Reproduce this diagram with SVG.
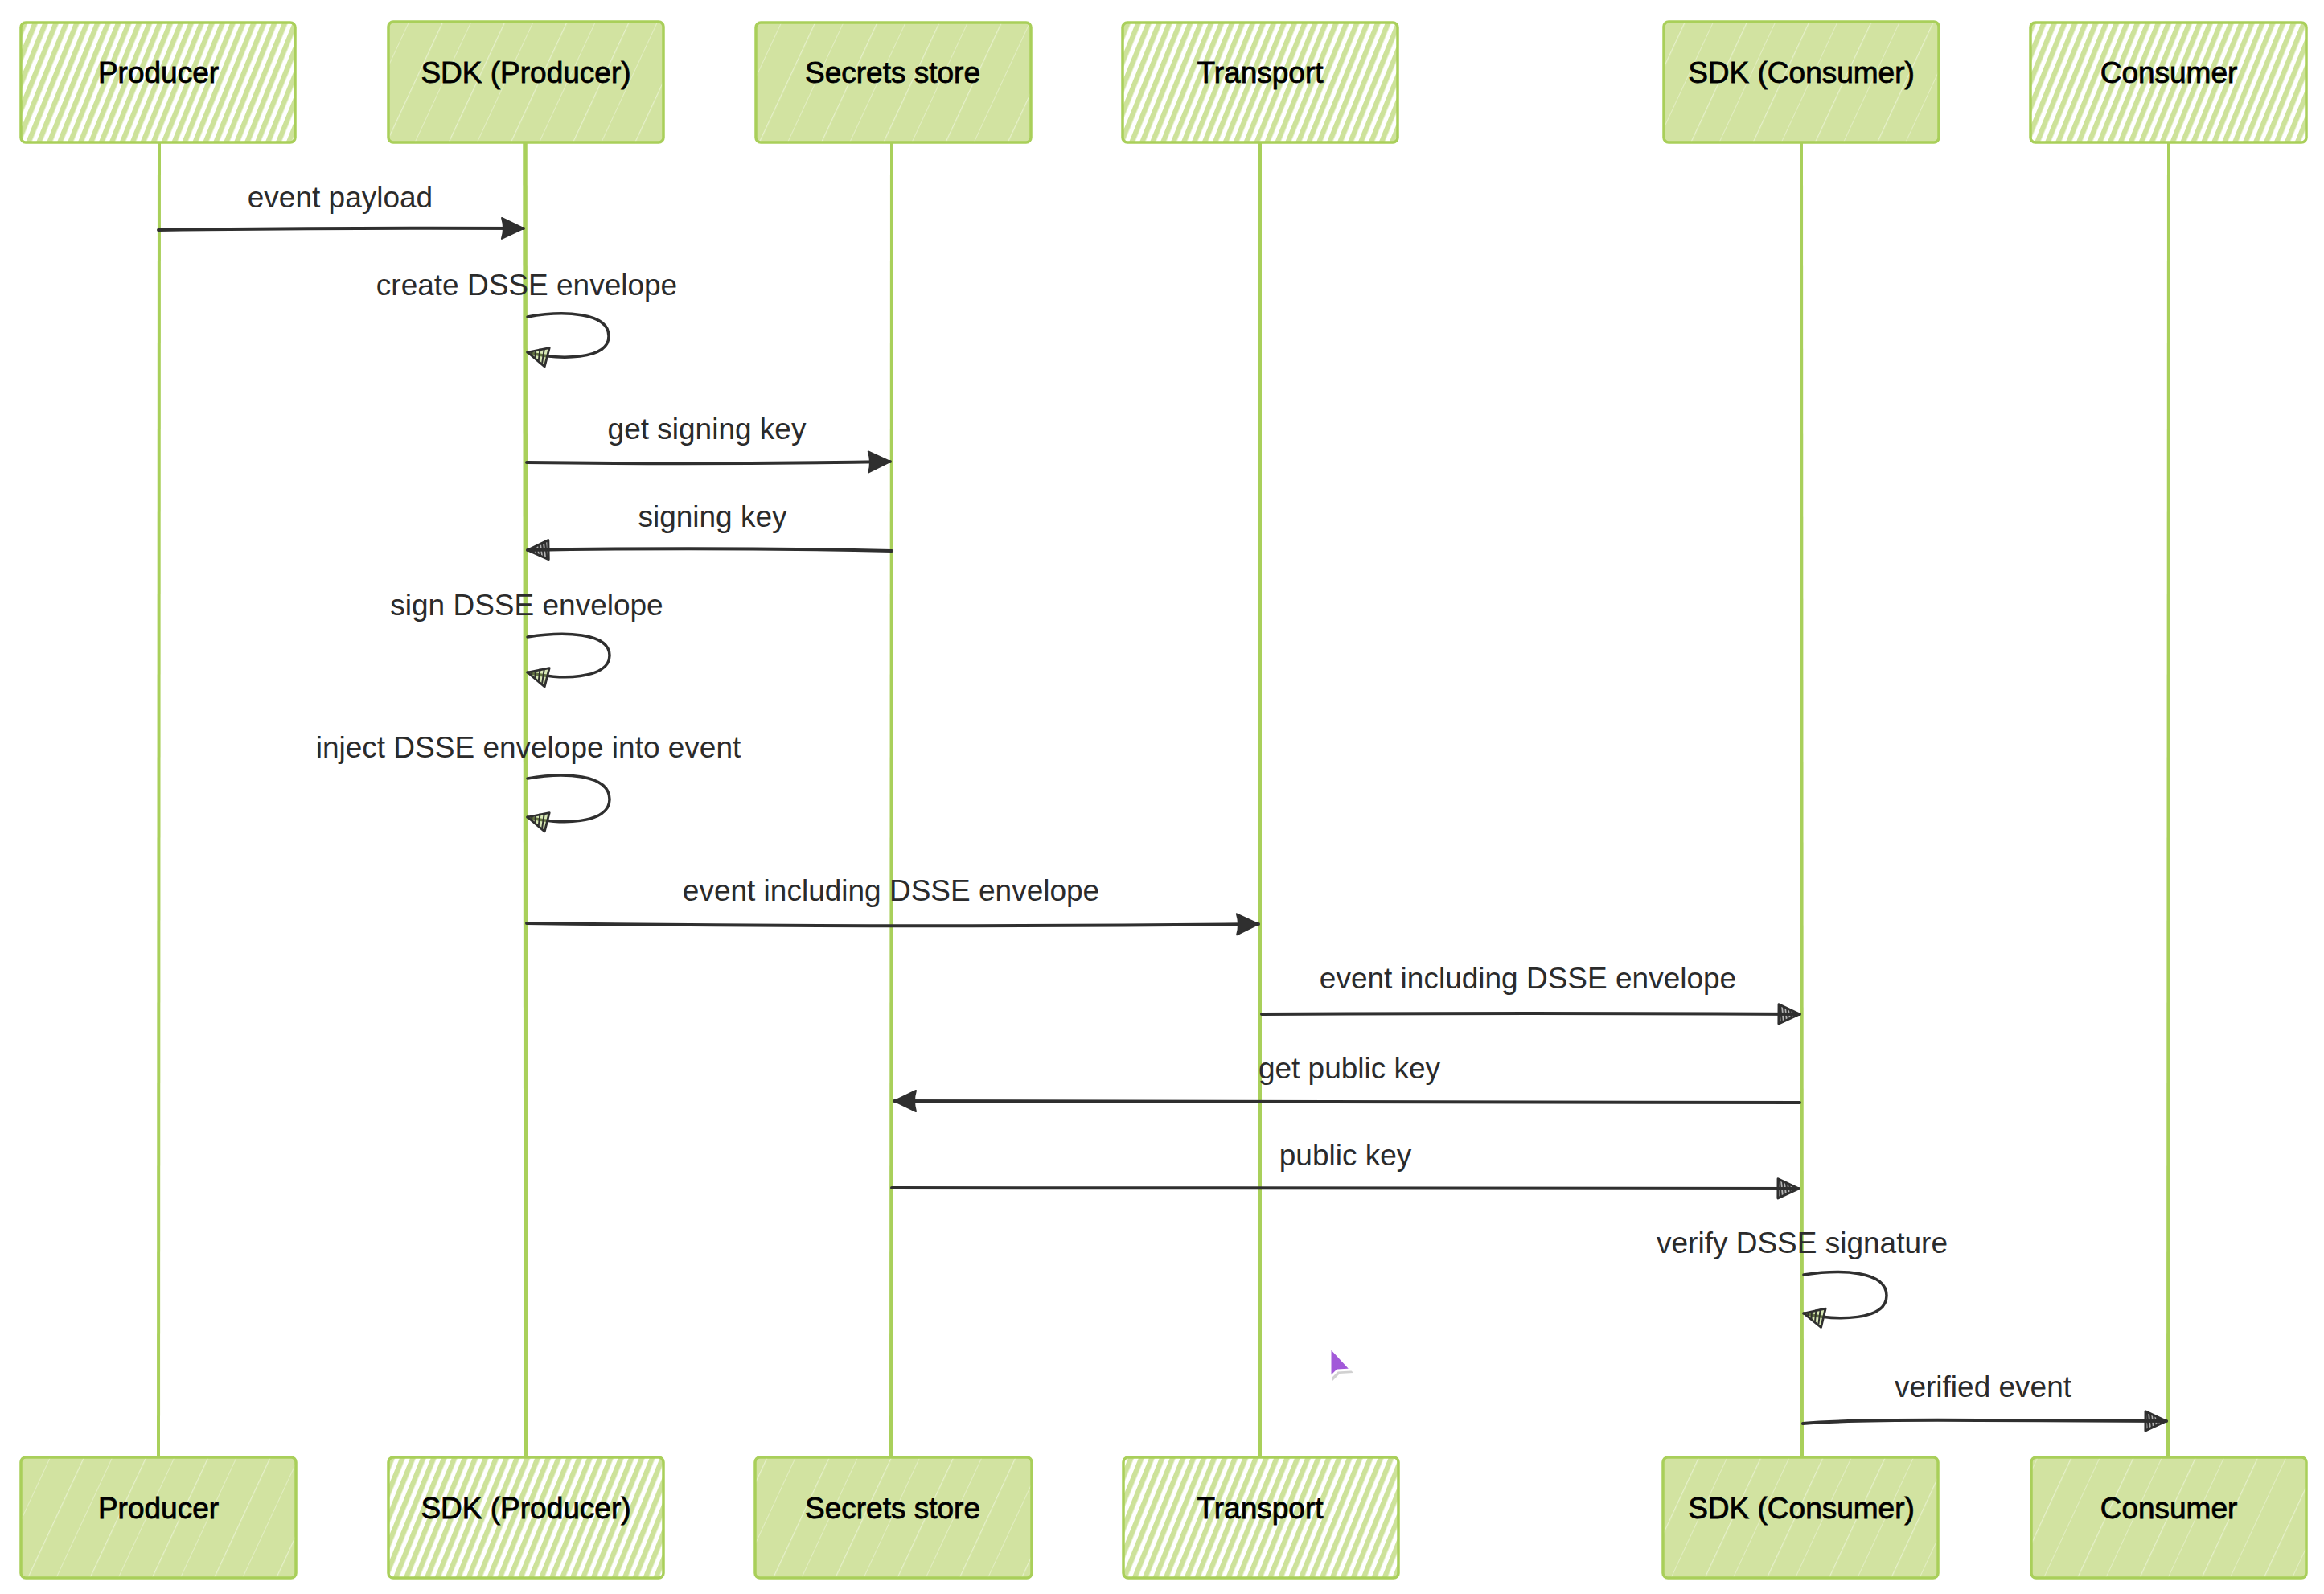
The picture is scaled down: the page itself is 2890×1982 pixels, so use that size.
<svg xmlns="http://www.w3.org/2000/svg" width="2890" height="1982" viewBox="0 0 2890 1982">
<style>
.box{stroke:#a9cf5a;stroke-width:3.5;stroke-linejoin:round}
.hatch{fill:url(#hatch)}
.solid{fill:url(#solid)}
.nlabel{font-family:"Liberation Sans",Arial,sans-serif;font-size:37px;fill:#000;stroke:#000;stroke-width:0.8;text-anchor:middle}
.mlabel{font-family:"Liberation Sans",Arial,sans-serif;font-size:37px;fill:#2b2b2b;text-anchor:middle}
.life{stroke:#a9d05b;stroke-width:4;fill:none}
.msg{stroke:#2f2f2f;stroke-width:4;fill:none;stroke-linecap:round}
.loop{stroke:#2f2f2f;stroke-width:3.5;fill:none;stroke-linecap:round}
</style>
<defs>
<pattern id="hatch" patternUnits="userSpaceOnUse" width="12" height="12" patternTransform="rotate(22)">
<rect width="12" height="12" fill="#ffffff"/>
<rect x="0" y="0" width="6.5" height="12" fill="#cde29a"/>
</pattern>
<pattern id="solid" patternUnits="userSpaceOnUse" width="70" height="70" patternTransform="rotate(25)">
<rect width="70" height="70" fill="#d2e3a1"/>
<rect x="20" y="0" width="1.2" height="70" fill="#ffffff" opacity="0.45"/>
<rect x="52" y="0" width="1" height="70" fill="#ffffff" opacity="0.35"/>
</pattern>
<marker id="head" markerUnits="userSpaceOnUse" markerWidth="32" markerHeight="32" viewBox="0 0 32 32" refX="29" refY="16" orient="auto">
<path d="M2,3 L29,16 L2,29 Q6,16 2,3 Z" fill="#2f2f2f" stroke="#2f2f2f" stroke-width="2" stroke-linejoin="round"/>
</marker>
<marker id="sketch" markerUnits="userSpaceOnUse" markerWidth="32" markerHeight="32" viewBox="0 0 32 32" refX="29" refY="16" orient="auto">
<path d="M3,4 L29,16 L3,28 Z" fill="#2f2f2f" fill-opacity="0.35" stroke="#2f2f2f" stroke-width="3" stroke-linejoin="round"/>
<path d="M5,6 L7,27 M9,7 L11,25 M13,9 L15,23 M17,11 L19,21 M21,13 L23,19 M25,14 L26,18" stroke="#2f2f2f" stroke-width="2.2"/>
</marker>
<marker id="loophead" markerUnits="userSpaceOnUse" markerWidth="32" markerHeight="32" viewBox="0 0 32 32" refX="28" refY="16" orient="auto">
<path d="M3,4 L28,16 L3,28 Z" fill="#a9cf5a" fill-opacity="0.45" stroke="#2f2f2f" stroke-width="2.8" stroke-linejoin="round"/>
<path d="M7,7 L9,26 M12,9 L14,24 M17,11 L19,21 M22,13 L23,19" stroke="#2f2f2f" stroke-width="2"/>
</marker>
</defs>
<rect width="2890" height="1982" fill="#ffffff"/>

<g id="lifelines">
<path class="life" d="M198 177 L197 1812"/>
<path class="life" d="M653 177 L654 1812" style="stroke-width:5.5"/>
<path class="life" d="M1109 177 L1108 1812"/>
<path class="life" d="M1567 177 L1567 1812"/>
<path class="life" d="M2240 177 L2241 1812"/>
<path class="life" d="M2697 177 L2696 1812"/>
</g>

<g id="producer-top"><rect class="box hatch" x="26" y="28" width="341" height="149" rx="6"/><text class="nlabel" x="197" y="103">Producer</text></g>
<g id="sdk-producer-top"><rect class="box solid" x="483" y="27" width="342" height="150" rx="6"/><text class="nlabel" x="654" y="103">SDK (Producer)</text></g>
<g id="secrets-top"><rect class="box solid" x="940" y="28" width="342" height="149" rx="6"/><text class="nlabel" x="1110" y="103">Secrets store</text></g>
<g id="transport-top"><rect class="box hatch" x="1396" y="28" width="342" height="149" rx="6"/><text class="nlabel" x="1567" y="103">Transport</text></g>
<g id="sdk-consumer-top"><rect class="box solid" x="2069" y="27" width="342" height="150" rx="6"/><text class="nlabel" x="2240" y="103">SDK (Consumer)</text></g>
<g id="consumer-top"><rect class="box hatch" x="2525" y="28" width="343" height="149" rx="6"/><text class="nlabel" x="2697" y="103">Consumer</text></g>

<g id="producer-bottom"><rect class="box solid" x="26" y="1812" width="342" height="150" rx="6"/><text class="nlabel" x="197" y="1888">Producer</text></g>
<g id="sdk-producer-bottom"><rect class="box hatch" x="483" y="1812" width="342" height="150" rx="6"/><text class="nlabel" x="654" y="1888">SDK (Producer)</text></g>
<g id="secrets-bottom"><rect class="box solid" x="939" y="1812" width="344" height="150" rx="6"/><text class="nlabel" x="1110" y="1888">Secrets store</text></g>
<g id="transport-bottom"><rect class="box hatch" x="1397" y="1812" width="342" height="150" rx="6"/><text class="nlabel" x="1567" y="1888">Transport</text></g>
<g id="sdk-consumer-bottom"><rect class="box solid" x="2068" y="1812" width="342" height="150" rx="6"/><text class="nlabel" x="2240" y="1888">SDK (Consumer)</text></g>
<g id="consumer-bottom"><rect class="box solid" x="2526" y="1812" width="342" height="150" rx="6"/><text class="nlabel" x="2697" y="1888">Consumer</text></g>

<g id="connectors">
<path class="msg" d="M197 286 Q420 283 651 284" marker-end="url(#head)"/>
<text class="mlabel" x="423" y="258">event payload</text>

<path class="loop" d="M656 394 C700 386 757 388 757 418 C757 448 695 448 656 438" marker-end="url(#loophead)"/>
<text class="mlabel" x="655" y="367">create DSSE envelope</text>

<path class="msg" d="M655 575 Q880 578 1107 574" marker-end="url(#head)"/>
<text class="mlabel" x="879" y="546">get signing key</text>

<path class="msg" d="M1109 685 Q880 680 656 684" marker-end="url(#sketch)"/>
<text class="mlabel" x="886" y="655">signing key</text>

<path class="loop" d="M656 792 C700 785 758 786 758 815 C758 845 695 846 656 836" marker-end="url(#loophead)"/>
<text class="mlabel" x="655" y="765">sign DSSE envelope</text>

<path class="loop" d="M656 968 C700 960 758 962 758 994 C758 1025 695 1026 656 1016" marker-end="url(#loophead)"/>
<text class="mlabel" x="657" y="942">inject DSSE envelope into event</text>

<path class="msg" d="M655 1148 Q1100 1154 1565 1149" marker-end="url(#head)"/>
<text class="mlabel" x="1108" y="1120">event including DSSE envelope</text>

<path class="msg" d="M1569 1261 Q1900 1259 2238 1261" marker-end="url(#sketch)"/>
<text class="mlabel" x="1900" y="1229">event including DSSE envelope</text>

<path class="msg" d="M2238 1371 Q1680 1369 1112 1369" marker-end="url(#head)"/>
<text class="mlabel" x="1678" y="1341">get public key</text>

<path class="msg" d="M1109 1477 Q1680 1475 2237 1478" marker-end="url(#sketch)"/>
<text class="mlabel" x="1673" y="1449">public key</text>

<path class="loop" d="M2243 1585 C2290 1578 2346 1580 2346 1611 C2346 1642 2285 1643 2243 1633" marker-end="url(#loophead)"/>
<text class="mlabel" x="2241" y="1558">verify DSSE signature</text>

<path class="msg" d="M2242 1770 Q2300 1765 2460 1766 L2694 1767" marker-end="url(#sketch)"/>
<text class="mlabel" x="2466" y="1737">verified event</text>
</g>

<g id="cursor">
<path d="M1657 1679 L1657 1717 L1666 1708 L1683 1707 Z" fill="#000" opacity="0.18"/>
<path d="M1654 1675 L1654 1713 L1663 1704 L1680 1703 Z" fill="#a259d9" stroke="#ffffff" stroke-width="3" stroke-linejoin="round"/>
</g>
</svg>
